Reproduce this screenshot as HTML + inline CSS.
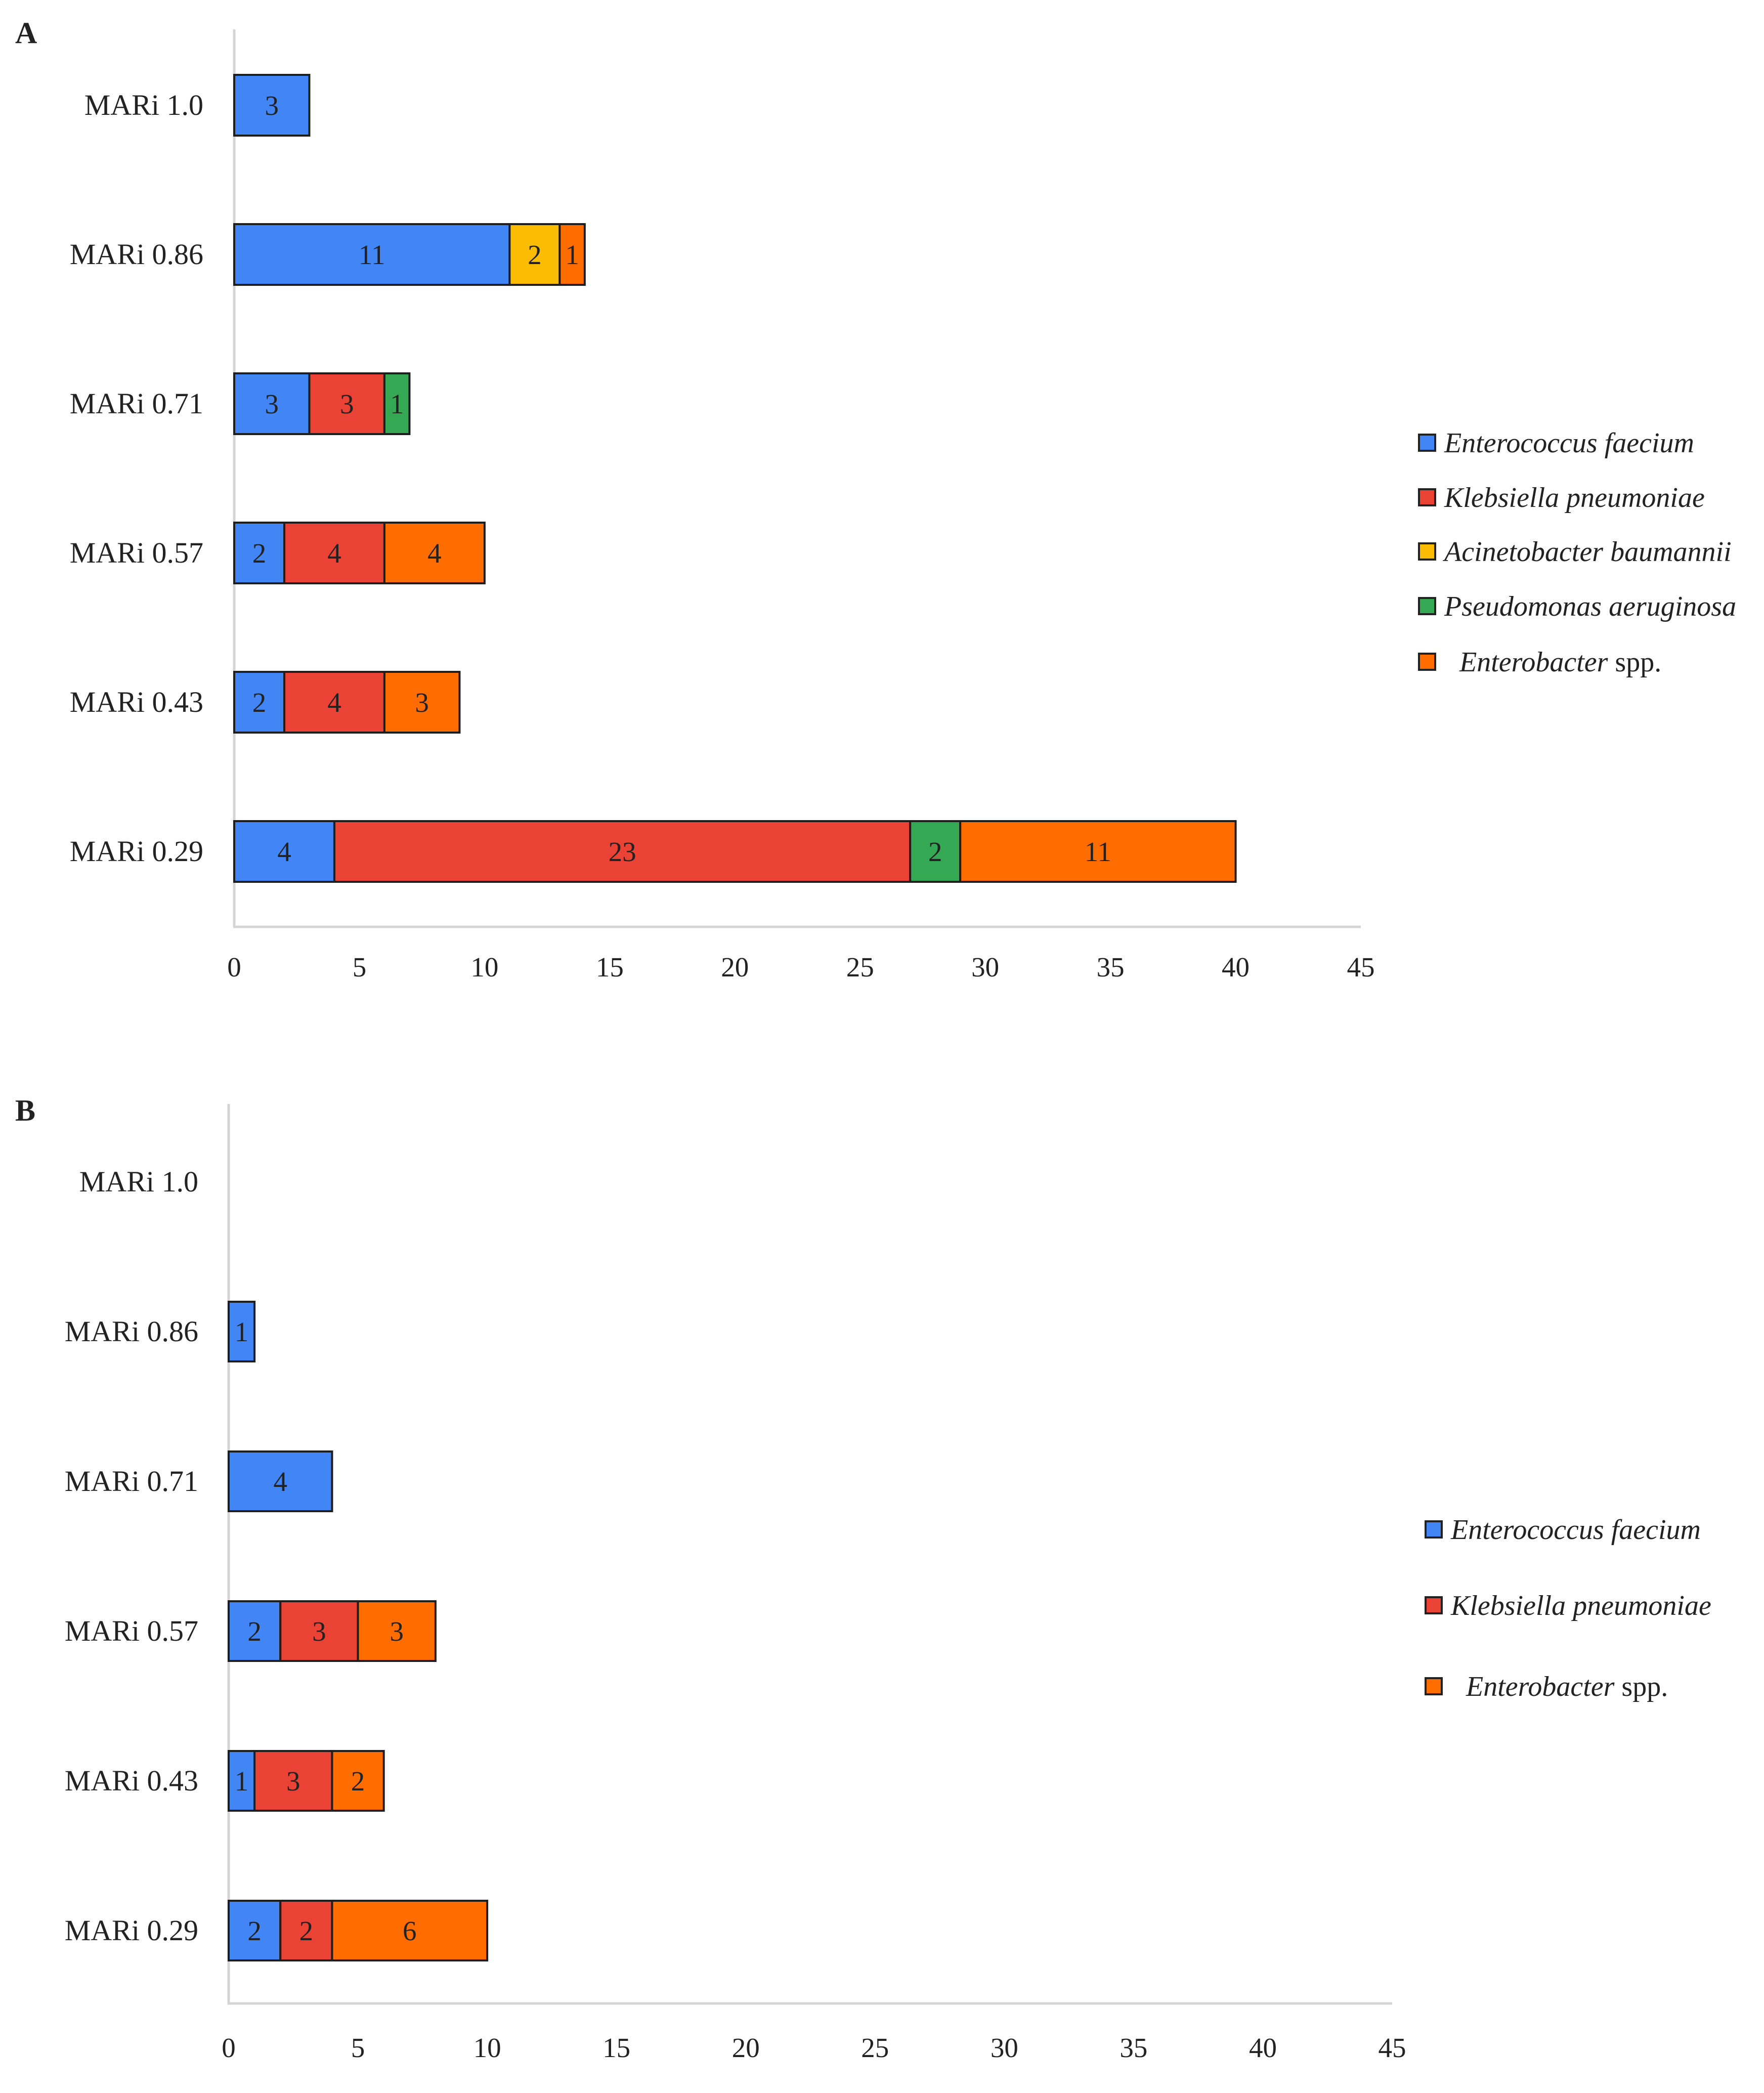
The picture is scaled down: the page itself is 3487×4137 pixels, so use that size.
<!DOCTYPE html>
<html><head><meta charset="utf-8">
<style>
html,body{margin:0;padding:0;background:#fff;}
svg{display:block;}
text{font-family:"Liberation Serif",serif;fill:#222;}
</style></head>
<body>
<svg id="chart" width="3487" height="4137" viewBox="0 0 3487 4137" xmlns="http://www.w3.org/2000/svg">
<text x="30" y="85" font-size="60" font-weight="bold">A</text>
<text x="30" y="2215" font-size="60" font-weight="bold">B</text>
<g id="panelA"></g>
<g id="panelB"></g>
</svg>
<script>
const categories = ["MARi 1.0","MARi 0.86","MARi 0.71","MARi 0.57","MARi 0.43","MARi 0.29"];
const ticks = [0,5,10,15,20,25,30,35,40,45];
const speciesA = ["Enterococcus faecium","Klebsiella pneumoniae","Acinetobacter baumannii","Pseudomonas aeruginosa","Enterobacter spp."];
const colorsA = ["#4285f4","#ea4335","#fbbc04","#34a853","#ff6d01"];
const efaeciumA = [3,11,3,2,2,4];
const kpneumoniaeA = [0,0,3,4,4,23];
const abaumanniiA = [0,2,0,0,0,0];
const paeruginosaA = [0,0,1,0,0,2];
const enterobacterA = [0,1,0,4,3,11];
const speciesB = ["Enterococcus faecium","Klebsiella pneumoniae","Enterobacter spp."];
const colorsB = ["#4285f4","#ea4335","#ff6d01"];
const efaeciumB = [0,1,4,2,1,2];
const kpneumoniaeB = [0,0,0,3,3,2];
const enterobacterB = [0,0,0,3,2,6];

const NS="http://www.w3.org/2000/svg";
function mk(tag,attrs,parent){const e=document.createElementNS(NS,tag);for(const k in attrs)e.setAttribute(k,attrs[k]);parent.appendChild(e);return e;}

function drawPanel(g,cfg,series,colors,names){
  const xScale=v=>cfg.x0+(v/45)*(cfg.x45-cfg.x0);
  const yCenter=i=>cfg.yFirst+i*cfg.step;
  const ya=mk('line',{x1:cfg.x0,x2:cfg.x0,y1:cfg.axisTop,y2:cfg.axisBottom,stroke:'#d4d4d4','stroke-width':5},g);
  
  
  const xa=mk('line',{x1:cfg.x0-2,x2:xScale(45),y1:cfg.axisBottom,y2:cfg.axisBottom,stroke:'#d4d4d4','stroke-width':5},g);
  
  
  ticks.forEach(t=>{
    const tx=mk('text',{x:xScale(t),y:cfg.tickY,'font-size':55,'text-anchor':'middle'},g);
    tx.textContent=t;
    
    
  });
  categories.forEach((c,i)=>{
    const lb=mk('text',{x:cfg.labelX,y:yCenter(i)+19,'font-size':58,'text-anchor':'end'},g);
    lb.textContent=c;
    
    
    let acc=0;
    series.forEach((s,si)=>{
      const v=s[i]; if(!v) return;
      const x1=xScale(acc), x2=xScale(acc+v);
      const r=mk('rect',{x:x1,y:yCenter(i)-cfg.barH/2,width:x2-x1,height:cfg.barH,fill:colors[si],stroke:'#1e1e1e','stroke-width':4},g);
      
      
      const t=mk('text',{x:(x1+x2)/2,y:yCenter(i)+19,'font-size':55,'text-anchor':'middle'},g);
      t.textContent=v;
      
      
      acc+=v;
    });
  });
  names.forEach((n,i)=>{
    const ly=cfg.legendY[i];
    const sq=mk('rect',{x:cfg.legendX,y:ly-17,width:32,height:32,fill:colors[i],stroke:'#222','stroke-width':4},g);
    
    
    const isEnt=n==="Enterobacter spp.";
    const t=mk('text',{x:cfg.legendX+(isEnt?80:50),y:ly+18,'font-size':56},g);
    
    
    if(isEnt){
      const a=mk('tspan',{'font-style':'italic'},t);a.textContent="Enterobacter";
      const b=mk('tspan',{},t);b.textContent=" spp.";
    } else {t.setAttribute('font-style','italic');t.textContent=n;}
  });
}
drawPanel(document.getElementById('panelA'),
  {x0:463,x45:2690,yFirst:208,step:295,barH:120,axisTop:58,axisBottom:1832,tickY:1930,labelX:402,legendX:2805,legendY:[876,984,1091,1199,1309]},
  [efaeciumA,kpneumoniaeA,abaumanniiA,paeruginosaA,enterobacterA],colorsA,speciesA);
drawPanel(document.getElementById('panelB'),
  {x0:452,x45:2752,yFirst:2336,step:296,barH:118,axisTop:2182,axisBottom:3960,tickY:4066,labelX:392,legendX:2818,legendY:[3024,3174,3334]},
  [efaeciumB,kpneumoniaeB,enterobacterB],colorsB,speciesB);
</script>
</body></html>
